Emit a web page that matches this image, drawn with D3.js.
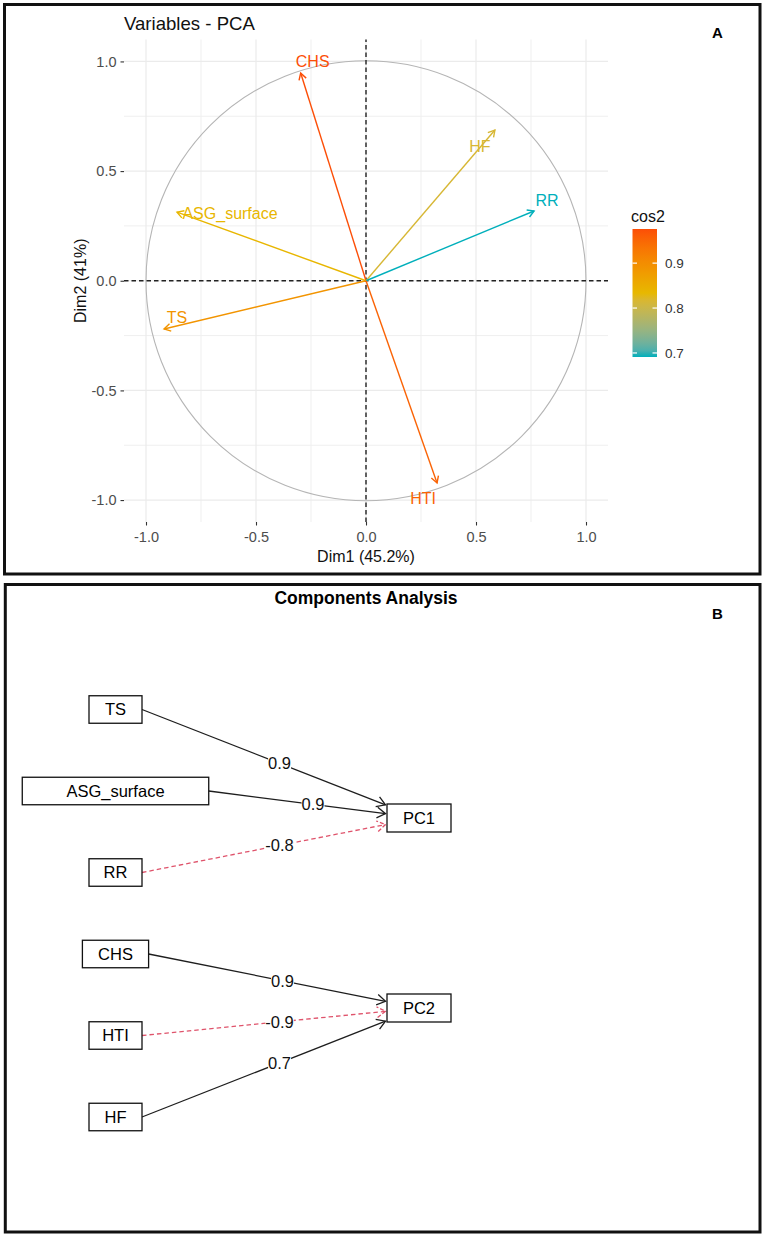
<!DOCTYPE html>
<html><head><meta charset="utf-8">
<script src="https://cdn.jsdelivr.net/npm/d3@7"></script>
<style>
body{margin:0;background:#fff}
svg{display:block}
text{font-family:"Liberation Sans",Arial,Helvetica,sans-serif}
</style>
</head><body>
<svg id="c" width="765" height="1237"></svg>
<script>
// ---------- Panel A data ----------
const variables = ["CHS", "HF", "RR", "ASG_surface", "TS", "HTI"];
const dim1 = [-0.297, 0.586, 0.764, -0.859, -0.918, 0.323];
const dim2 = [0.947, 0.687, 0.318, 0.313, -0.220, -0.922];
const cos2 = [0.976, 0.815, 0.691, 0.836, 0.890, 0.954];
const axisTicks = [-1.0, -0.5, 0.0, 0.5, 1.0];
const minorTicks = [-0.75, -0.25, 0.25, 0.75];
const legendTicks = [0.7, 0.8, 0.9];
const gradientColors = ["#00AFBB", "#E7B800", "#FC4E07"];
// ---------- Panel B data ----------
const indicators = ["TS", "ASG_surface", "RR", "CHS", "HTI", "HF"];
const components = ["PC1", "PC1", "PC1", "PC2", "PC2", "PC2"];
const loadings = [0.9, 0.9, -0.8, 0.9, -0.9, 0.7];
const factors = ["PC1", "PC2"];

const svg = d3.select("#c");
const FONT = '"Liberation Sans",Arial,sans-serif';
const fmt = d => d.toFixed(1);   // ASCII hyphen-minus as in the reference

function openHead(g, x1, y1, x2, y2, len, ang, color, width, dash) {
  const a = Math.atan2(y2 - y1, x2 - x1);
  const p = [
    [x2 - len * Math.cos(a - ang), y2 - len * Math.sin(a - ang)],
    [x2, y2],
    [x2 - len * Math.cos(a + ang), y2 - len * Math.sin(a + ang)]
  ];
  g.append("path").attr("d", d3.line()(p)).attr("fill", "none")
    .attr("stroke", color).attr("stroke-width", width)
    .attr("stroke-dasharray", dash || null);
}

// ================= PANEL A =================
svg.append("rect").attr("x", 4.5).attr("y", 4.5).attr("width", 755.5).attr("height", 569.5)
  .attr("fill", "none").attr("stroke", "#111").attr("stroke-width", 3);

const A = svg.append("g");
const x = d3.scaleLinear().domain([-1.1, 1.1]).range([124, 608]);
const y = d3.scaleLinear().domain([-1.1, 1.1]).range([522, 39.5]);

// grid
minorTicks.forEach(v => {
  A.append("line").attr("x1", x(v)).attr("x2", x(v)).attr("y1", y.range()[0]).attr("y2", y.range()[1])
    .attr("stroke", "#EFEFEF").attr("stroke-width", 1);
  A.append("line").attr("y1", y(v)).attr("y2", y(v)).attr("x1", x.range()[0]).attr("x2", x.range()[1])
    .attr("stroke", "#EFEFEF").attr("stroke-width", 1);
});
axisTicks.forEach(v => {
  A.append("line").attr("x1", x(v)).attr("x2", x(v)).attr("y1", y.range()[0]).attr("y2", y.range()[1])
    .attr("stroke", "#EBEBEB").attr("stroke-width", 1.2);
  A.append("line").attr("y1", y(v)).attr("y2", y(v)).attr("x1", x.range()[0]).attr("x2", x.range()[1])
    .attr("stroke", "#EBEBEB").attr("stroke-width", 1.2);
});

// axes via d3 axis
const xAxis = A.append("g").attr("transform", `translate(0,${y.range()[0]})`)
  .call(d3.axisBottom(x).tickValues(axisTicks).tickFormat(fmt).tickSize(3.5).tickPadding(6));
const yAxis = A.append("g").attr("transform", `translate(${x.range()[0]},0)`)
  .call(d3.axisLeft(y).tickValues(axisTicks).tickFormat(fmt).tickSize(3.5).tickPadding(4));
[xAxis, yAxis].forEach(ax => {
  ax.select(".domain").remove();
  ax.selectAll(".tick line").attr("stroke", "#333").attr("stroke-width", 1.1);
  ax.selectAll(".tick text").attr("fill", "#4D4D4D").style("font-size", "14.5px").style("font-family", FONT);
});

// unit circle
A.append("circle").attr("cx", x(0)).attr("cy", y(0)).attr("r", x(1) - x(0))
  .attr("fill", "none").attr("stroke", "#B5B5B5").attr("stroke-width", 1.1);

// dashed zero lines
A.append("line").attr("x1", x.range()[0]).attr("x2", x.range()[1]).attr("y1", y(0)).attr("y2", y(0))
  .attr("stroke", "#222").attr("stroke-width", 1.4).attr("stroke-dasharray", "4.5,3");
A.append("line").attr("x1", x(0)).attr("x2", x(0)).attr("y1", y.range()[0]).attr("y2", y.range()[1])
  .attr("stroke", "#222").attr("stroke-width", 1.4).attr("stroke-dasharray", "4.5,3");

// color scale
const cmin = d3.min(cos2), cmax = d3.max(cos2);
const color = d3.scaleLinear().domain([cmin, (cmin + cmax) / 2, cmax]).range(gradientColors)
  .interpolate(d3.interpolateLab);

// arrows
const labelNudge = {CHS: [12, -12], HF: [-15, 16], RR: [13, -11], ASG_surface: [53, 1], TS: [13, -12], HTI: [-14, 15]};
variables.forEach((v, i) => {
  const x2 = x(dim1[i]), y2 = y(dim2[i]), col = color(cos2[i]);
  A.append("line").attr("x1", x(0)).attr("y1", y(0)).attr("x2", x2).attr("y2", y2)
    .attr("stroke", col).attr("stroke-width", 1.4);
  openHead(A, x(0), y(0), x2, y2, 7.5, Math.PI / 6, col, 1.4);
  const n = labelNudge[v];
  A.append("text").attr("x", x2 + n[0]).attr("y", y2 + n[1]).attr("dy", "0.35em")
    .attr("text-anchor", "middle").attr("fill", col).style("font-size", "16px").text(v);
});

// titles
A.append("text").attr("x", 124).attr("y", 30).style("font-size", "18.6px").attr("fill", "#111").text("Variables - PCA");
A.append("text").attr("x", x(0)).attr("y", 562).attr("text-anchor", "middle").style("font-size", "16px")
  .attr("fill", "#111").text("Dim1 (45.2%)");
A.append("text").attr("transform", `translate(86,${y(0)}) rotate(-90)`).attr("text-anchor", "middle")
  .style("font-size", "16px").attr("fill", "#111").text("Dim2 (41%)");
A.append("text").attr("x", 712).attr("y", 38).style("font-size", "15px").style("font-weight", "bold").text("A");

// legend
const ly = d3.scaleLinear().domain([cmin, cmax]).range([357, 229]);
const defs = svg.append("defs");
const grad = defs.append("linearGradient").attr("id", "cg").attr("x1", 0).attr("y1", 1).attr("x2", 0).attr("y2", 0);
d3.range(0, 1.0001, 0.05).forEach(t => {
  grad.append("stop").attr("offset", t).attr("stop-color", color(cmin + t * (cmax - cmin)));
});
const legX = 632.5, legW = 24.5;
A.append("rect").attr("x", legX).attr("y", ly(cmax)).attr("width", legW).attr("height", ly(cmin) - ly(cmax))
  .attr("fill", "url(#cg)");
legendTicks.forEach(t => {
  A.append("line").attr("x1", legX).attr("x2", legX + 4.5).attr("y1", ly(t)).attr("y2", ly(t))
    .attr("stroke", "#fff").attr("stroke-width", 1.2);
  A.append("line").attr("x1", legX + legW - 4.5).attr("x2", legX + legW).attr("y1", ly(t)).attr("y2", ly(t))
    .attr("stroke", "#fff").attr("stroke-width", 1.2);
  A.append("text").attr("x", 665).attr("y", ly(t)).attr("dy", "0.35em").style("font-size", "13.5px")
    .attr("fill", "#333").text(fmt(t));
});
A.append("text").attr("x", 631).attr("y", 222).style("font-size", "16px").attr("fill", "#111").text("cos2");

// ================= PANEL B =================
svg.append("rect").attr("x", 5.3).attr("y", 584.5).attr("width", 754.7).attr("height", 647.5)
  .attr("fill", "none").attr("stroke", "#111").attr("stroke-width", 3);
const B = svg.append("g");
B.append("text").attr("x", 366).attr("y", 604).attr("text-anchor", "middle").style("font-size", "17.5px")
  .style("font-weight", "bold").text("Components Analysis");
B.append("text").attr("x", 712).attr("y", 619).style("font-size", "15px").style("font-weight", "bold").text("B");

const rowY = d3.scalePoint().domain(indicators).range([709.5, 1117]);
const facY = d3.scalePoint().domain(factors).range([818, 1008]);
const leftX = 115.5, facX = 419, facW = 64, boxH = 27.5;

const edgesG = B.append("g"), nodesG = B.append("g"), labelsG = B.append("g");

// measure indicator box widths
const boxW = {};
indicators.forEach(ind => {
  const t = nodesG.append("text").style("font-size", "16.5px").text(ind);
  const w = t.node().getComputedTextLength();
  t.remove();
  boxW[ind] = Math.max(53, w * 1.9);
});

indicators.forEach((ind, i) => {
  const w = boxW[ind], cy = rowY(ind);
  nodesG.append("rect").attr("x", leftX - w / 2).attr("y", cy - boxH / 2).attr("width", w).attr("height", boxH)
    .attr("fill", "#fff").attr("stroke", "#111").attr("stroke-width", 1.3);
  nodesG.append("text").attr("x", leftX).attr("y", cy).attr("dy", "0.36em").attr("text-anchor", "middle")
    .style("font-size", "16.5px").text(ind);

  const f = components[i], fy = facY(f);
  const sx = leftX + w / 2, sy = cy;
  const ex = facX - facW / 2 - 1.5;
  const ey = sy + (fy - sy) * (ex - sx) / (facX - sx);
  const neg = loadings[i] < 0;
  const col = neg ? "#DF536B" : "#1E1E1E";
  const dash = neg ? "4.5,3" : null;
  edgesG.append("line").attr("x1", sx).attr("y1", sy).attr("x2", ex).attr("y2", ey)
    .attr("stroke", col).attr("stroke-width", 1.3).attr("stroke-dasharray", dash);
  openHead(edgesG, sx, sy, ex, ey, 10, 0.56, col, 1.3, neg ? "4,2" : null);

  const t = i === 1 ? 0.59 : 0.565;
  const lx = sx + (ex - sx) * t, lyy = sy + (ey - sy) * t;
  const lbl = labelsG.append("text").attr("x", lx).attr("y", lyy).attr("dy", "0.36em")
    .attr("text-anchor", "middle").style("font-size", "16.5px").attr("fill", "#111").text(fmt(loadings[i]));
  const bb = lbl.node().getBBox();
  labelsG.insert("rect", () => lbl.node()).attr("x", bb.x).attr("y", bb.y + 3).attr("width", bb.width)
    .attr("height", bb.height - 6).attr("fill", "#fff");
});

factors.forEach(f => {
  const cy = facY(f);
  nodesG.append("rect").attr("x", facX - facW / 2).attr("y", cy - 14).attr("width", facW).attr("height", 28)
    .attr("fill", "#fff").attr("stroke", "#111").attr("stroke-width", 1.3);
  nodesG.append("text").attr("x", facX).attr("y", cy).attr("dy", "0.36em").attr("text-anchor", "middle")
    .style("font-size", "16.5px").text(f);
});
</script>
</body></html>
